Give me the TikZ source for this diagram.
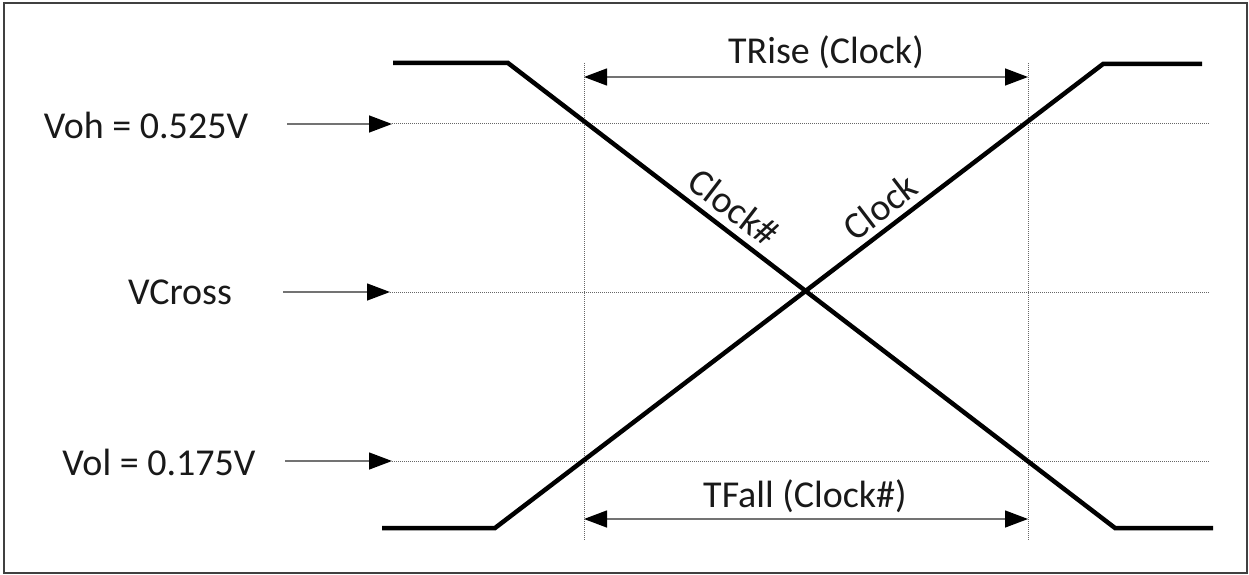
\documentclass[tikz,border=0pt]{standalone}
\usepackage{fontspec}
\setmainfont{Carlito}
\usetikzlibrary{arrows.meta}
\begin{document}
\begin{tikzpicture}[x=1pt,y=-1pt,
  sig/.style={line width=4.5pt, black},
  guide/.style={line width=1pt, black!60, dash pattern=on 1pt off 1pt},
  ptr/.style={-{Triangle[length=23pt,width=17pt,color=black]}, line width=1.4pt, black!55},
  dimline/.style={{Triangle[length=23pt,width=17pt,color=black]}-{Triangle[length=23pt,width=17pt,color=black]}, line width=1.4pt, black!55},
  lbl/.style={font=\fontsize{38}{42}\selectfont, inner sep=0pt, text=black!90}]
\useasboundingbox (0,0) rectangle (1249,575);
\draw[line width=1.5pt, black!75] (4,3) rectangle (1247,573);

% guide lines
\coordinate (vohA) at (392,124); \coordinate (vohB) at (1210,124);
\coordinate (vcA) at (390,292);  \coordinate (vcB) at (1210,292);
\coordinate (volA) at (392,461); \coordinate (volB) at (1210,461);
\coordinate (t1A) at (584,63);   \coordinate (t1B) at (584,540);
\coordinate (t2A) at (1028,63);  \coordinate (t2B) at (1028,540);
\draw[guide] (vohA) -- (vohB);
\draw[guide] (vcA) -- (vcB);
\draw[guide] (volA) -- (volB);
\draw[guide] (t1A) -- (t1B);
\draw[guide] (t2A) -- (t2B);

% signals
\coordinate (cnA) at (393,63);  \coordinate (cnB) at (508,63);
\coordinate (cnC) at (1115,528); \coordinate (cnD) at (1213,528);
\coordinate (ckA) at (382,528); \coordinate (ckB) at (495,528);
\coordinate (ckC) at (1103,64); \coordinate (ckD) at (1202,64);
\draw[sig] (cnA) -- (cnB) -- (cnC) -- (cnD);
\draw[sig] (ckA) -- (ckB) -- (ckC) -- (ckD);
\node[lbl, rotate=-37.4] (lclkn) at (734,207) {Clock\#};
\node[lbl, rotate=37.4] (lclk) at (880,207) {Clock};

% left labels and pointers
\node[lbl] (voh) at (146,125) {Voh = 0.525V};
\node[lbl] (vcross) at (180,292) {VCross};
\node[lbl] (vol) at (159,462) {Vol = 0.175V};
\coordinate (pvoh) at (287,124);
\coordinate (pvc) at (283,292);
\coordinate (pvol) at (285,461);
\draw[ptr] (pvoh) -- (vohA);
\draw[ptr] (pvc) -- (vcA);
\draw[ptr] (pvol) -- (volA);

% timing dimensions
\coordinate (rA) at (584,77); \coordinate (rB) at (1028,77);
\coordinate (fA) at (584,519); \coordinate (fB) at (1028,519);
\draw[dimline] (rA) -- (rB);
\draw[dimline] (fA) -- (fB);
\node[lbl] (trise) at (826,52) {TRise (Clock)};
\node[lbl] (tfall) at (805,496) {TFall (Clock\#)};
\end{tikzpicture}
\end{document}
